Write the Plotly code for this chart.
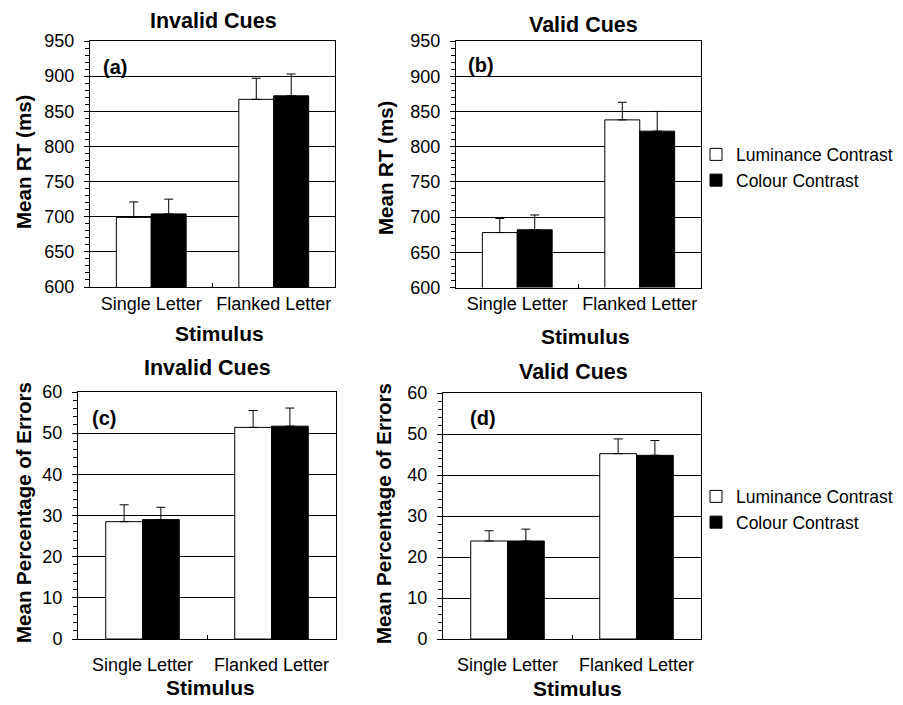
import plotly.graph_objects as go

W, H = 903, 705

categories = ["Single Letter", "Flanked Letter"]
series_names = ["Luminance Contrast", "Colour Contrast"]

rt_invalid_lum = [699, 867]
rt_invalid_lum_err = [22, 30]
rt_invalid_col = [704, 872]
rt_invalid_col_err = [21, 31]

rt_valid_lum = [678, 838]
rt_valid_lum_err = [20, 25]
rt_valid_col = [682, 822]
rt_valid_col_err = [21, 28]

pe_invalid_lum = [28.5, 51.4]
pe_invalid_lum_err = [4.1, 4.1]
pe_invalid_col = [29.0, 51.7]
pe_invalid_col_err = [3.0, 4.4]

pe_valid_lum = [23.9, 45.2]
pe_valid_lum_err = [2.5, 3.6]
pe_valid_col = [23.9, 44.8]
pe_valid_col_err = [2.9, 3.6]

panel_titles = ["Invalid Cues", "Valid Cues", "Invalid Cues", "Valid Cues"]
panel_labels = ["(a)", "(b)", "(c)", "(d)"]
y_titles = ["Mean RT (ms)", "Mean RT (ms)", "Mean Percentage of Errors", "Mean Percentage of Errors"]
x_title = "Stimulus"

FONT = "Arial, Liberation Sans, Helvetica, sans-serif"

def px(x):
    return x / W

def py(y):
    return 1 - y / H

# panel boxes in pixels: left, right, top, bottom
boxes = [
    (90, 335, 41, 287),
    (456, 701, 41, 287.5),
    (78, 336, 392, 639),
    (443, 701, 393, 639),
]

panel_data = [
    (rt_invalid_lum, rt_invalid_lum_err, rt_invalid_col, rt_invalid_col_err),
    (rt_valid_lum, rt_valid_lum_err, rt_valid_col, rt_valid_col_err),
    (pe_invalid_lum, pe_invalid_lum_err, pe_invalid_col, pe_invalid_col_err),
    (pe_valid_lum, pe_valid_lum_err, pe_valid_col, pe_valid_col_err),
]

yranges = [[600, 950], [600, 950], [0, 60], [0, 60]]
ydticks = [50, 50, 10, 10]
yminor = [10, 10, 2, 2]
legend_for_panel = {0: "legend", 2: "legend2"}

fig = go.Figure()

for i, (lum, lum_err, col, col_err) in enumerate(panel_data):
    xa = "x" if i == 0 else f"x{i+1}"
    ya = "y" if i == 0 else f"y{i+1}"
    show = i in legend_for_panel
    leg = legend_for_panel.get(i, "legend")
    for name, vals, errs, fill in [
        (series_names[0], lum, lum_err, "white"),
        (series_names[1], col, col_err, "black"),
    ]:
        fig.add_trace(go.Bar(
            x=categories, y=vals, name=name,
            xaxis=xa, yaxis=ya,
            marker=dict(color=fill, line=dict(color="black", width=1)),
            error_y=dict(type="data", array=errs, arrayminus=[0] * len(errs),
                         symmetric=False, color="black", thickness=1, width=4.5),
            showlegend=show, legend=leg,
        ))

layout = dict(
    width=W, height=H, autosize=False,
    margin=dict(l=0, r=0, t=0, b=0, pad=0, autoexpand=False),
    paper_bgcolor="white", plot_bgcolor="white",
    barmode="group", bargap=0.43, bargroupgap=0,
    font=dict(family=FONT, size=18, color="black"),
    showlegend=True,
)

annotations = []
for i, (l, r, t, b) in enumerate(boxes):
    xk = "xaxis" if i == 0 else f"xaxis{i+1}"
    yk = "yaxis" if i == 0 else f"yaxis{i+1}"
    layout[xk] = dict(
        domain=[px(l), px(r)], anchor="y" if i == 0 else f"y{i+1}",
        type="category", tickson="boundaries", ticks="inside", ticklen=4,
        tickcolor="black", showline=True, linecolor="black", linewidth=1,
        mirror=True, showgrid=False, tickfont=dict(size=18), tickangle=0,
        ticklabelstandoff=0 if i < 2 else 9, automargin=False,
    )
    layout[yk] = dict(
        domain=[py(b), py(t)], anchor="x" if i == 0 else f"x{i+1}",
        range=yranges[i], dtick=ydticks[i], ticks="outside", ticklen=5,
        tickcolor="black", showline=True, linecolor="black", linewidth=1,
        mirror=True, showgrid=True, gridcolor="black", gridwidth=1,
        zeroline=False, tickfont=dict(size=18), ticklabelstandoff=6,
        automargin=False,
        minor=dict(ticks="outside", ticklen=4, dtick=yminor[i],
                   tickcolor="black", showgrid=False),
    )

title_pos = [(213, 21), (583, 25), (207, 368), (573, 372)]
stim_pos = [(219, 333), (585, 336), (210, 687), (577, 688)]
ytitle_pos = [(23, 162), (385, 168), (23, 513), (383, 514)]
label_pos = [(115, 67), (481, 65), (104, 418), (483, 418)]

for i in range(4):
    annotations.append(dict(text=f"<b>{panel_titles[i]}</b>", x=px(title_pos[i][0]),
                            y=py(title_pos[i][1]), xref="paper", yref="paper",
                            showarrow=False, font=dict(size=21.5),
                            xanchor="center", yanchor="middle"))
    annotations.append(dict(text=f"<b>{x_title}</b>", x=px(stim_pos[i][0]),
                            y=py(stim_pos[i][1]), xref="paper", yref="paper",
                            showarrow=False, font=dict(size=21),
                            xanchor="center", yanchor="middle"))
    annotations.append(dict(text=f"<b>{y_titles[i]}</b>", x=px(ytitle_pos[i][0]),
                            y=py(ytitle_pos[i][1]), xref="paper", yref="paper",
                            showarrow=False, font=dict(size=20.5), textangle=-90,
                            xanchor="center", yanchor="middle"))
    annotations.append(dict(text=f"<b>{panel_labels[i]}</b>", x=px(label_pos[i][0]),
                            y=py(label_pos[i][1]), xref="paper", yref="paper",
                            showarrow=False, font=dict(size=20),
                            xanchor="center", yanchor="middle"))

layout["annotations"] = annotations
layout["legend"] = dict(x=px(696), y=py(167.5), xanchor="left", yanchor="middle",
                        font=dict(size=17.5), itemwidth=30, bgcolor="rgba(0,0,0,0)",
                        tracegroupgap=0)
layout["legend2"] = dict(x=px(696), y=py(509.5), xanchor="left", yanchor="middle",
                         font=dict(size=17.5), itemwidth=30, bgcolor="rgba(0,0,0,0)",
                         tracegroupgap=0)

fig.update_layout(**layout)
fig.write_html("out.html", config={"displayModeBar": False},
               post_script="document.body.style.margin='0px';")
